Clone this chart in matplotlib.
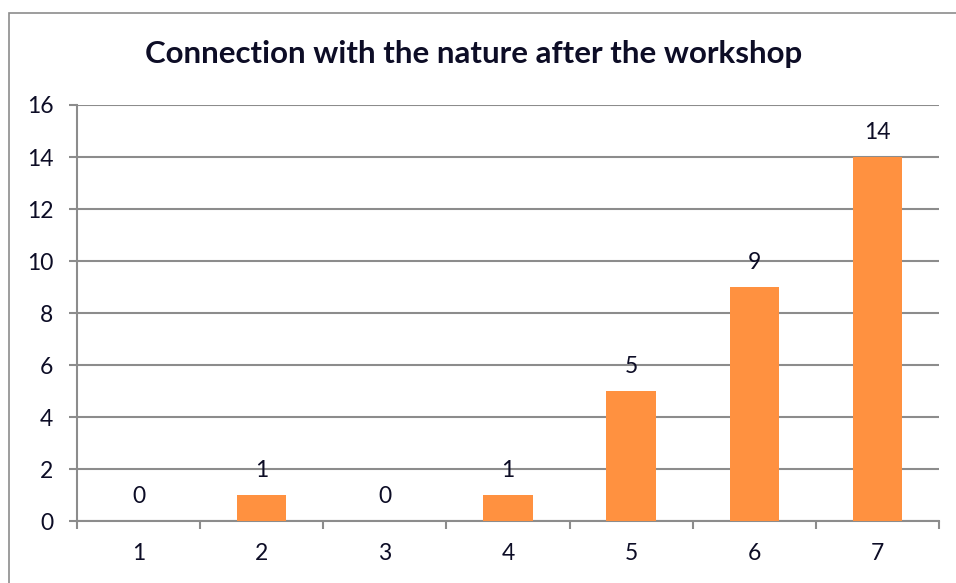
import matplotlib.pyplot as plt
from matplotlib.patches import Rectangle

categories = ["1", "2", "3", "4", "5", "6", "7"]
counts = [0, 1, 0, 1, 5, 9, 14]
y_ticks = [0, 2, 4, 6, 8, 10, 12, 14, 16]

TEXT_COLOR = "#0d0d26"
BAR_COLOR = "#ff9140"
GRID_COLOR = "#8c8c8c"

plt.rcParams["font.family"] = ["Lato", "DejaVu Sans"]

fig = plt.figure(figsize=(9.56, 5.83), dpi=100)
ax = fig.add_axes([0.0805, 0.1063, 0.9017, 0.7136])

# outer chart frame, only top and left edges fall inside the picture
fig.patches.append(Rectangle((8.5 / 956, -0.5), 2.0, 0.5 + 1 - 13 / 583,
                             transform=fig.transFigure, fill=False,
                             edgecolor="#8c8c8c", linewidth=1.2))

positions = list(range(len(categories)))
ax.bar(positions, counts, width=0.4, color=BAR_COLOR, zorder=3)

for x, v in zip(positions, counts):
    ax.annotate(str(v), (x, v), xytext=(0, 18), textcoords="offset points",
                ha="center", va="center", fontsize=16.5, color=TEXT_COLOR)

ax.set_xlim(-0.5, len(categories) - 0.5)
ax.set_ylim(0, 16)
ax.set_yticks(y_ticks)
ax.set_yticklabels([str(t) for t in y_ticks])
ax.set_xticks(positions)
ax.set_xticklabels(categories)
ax.set_xticks([p - 0.5 for p in positions] + [len(categories) - 0.5], minor=True)

ax.yaxis.grid(True, color=GRID_COLOR, linewidth=1.5, zorder=0)
ax.set_axisbelow(True)

for side in ["top", "right"]:
    ax.spines[side].set_visible(False)
for side in ["left", "bottom"]:
    ax.spines[side].set_color(GRID_COLOR)
    ax.spines[side].set_linewidth(1.5)

ax.tick_params(axis="y", length=6, width=1.5, color=GRID_COLOR,
               labelsize=16.5, labelcolor=TEXT_COLOR, pad=11)
ax.tick_params(axis="x", which="major", length=0, labelsize=16.5,
               labelcolor=TEXT_COLOR, pad=16)
ax.tick_params(axis="x", which="minor", length=6, width=1.5, color=GRID_COLOR)

fig.text(474 / 956, 1 - 54 / 583, "Connection with the nature after the workshop",
         ha="center", va="center", fontsize=22.5, fontweight="bold",
         color=TEXT_COLOR)

fig.savefig("out.png", dpi=100, facecolor="white")
